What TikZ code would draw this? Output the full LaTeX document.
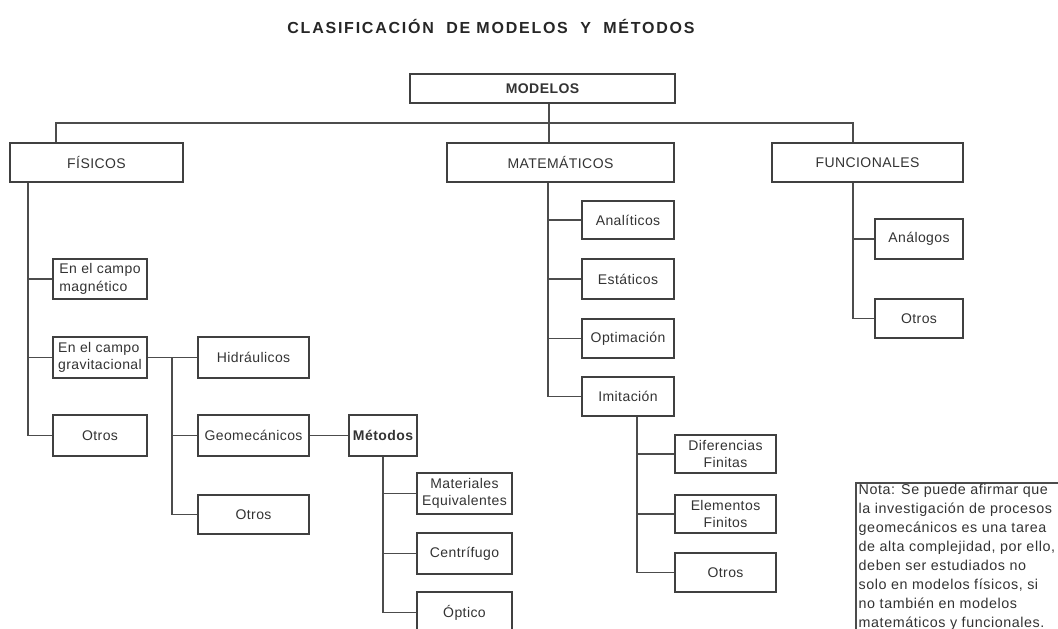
\documentclass[tikz,border=0pt]{standalone}
\usepackage{fontspec}
\setmainfont{Liberation Sans}
\newfontfamily\boxfont[LetterSpace=3]{Liberation Sans}
\newfontfamily\titlefont[LetterSpace=11]{Liberation Sans}
\newfontfamily\notefont[LetterSpace=4]{Liberation Sans}
\begin{document}
\begin{tikzpicture}[x=1pt,y=-1pt,
  box/.style={draw=black!75,line width=1.2pt,inner sep=0pt,align=center,text=black!80,
    font=\boxfont\fontsize{14}{17.5}\selectfont},
  conn/.style={draw=black!70,line width=1.3pt}]
\useasboundingbox (0,0) rectangle (1058,629);
\clip (0,0) rectangle (1058,629);
\fill[white] (0,0) rectangle (1058,629);
\node[text=black!85,font=\titlefont\bfseries\fontsize{16}{19}\selectfont] (title) at (491,26) {CLASIFICACIÓN\ \ DE MODELOS\ \ Y\ \ MÉTODOS};
% level 0/1
\node[box,minimum width=265,minimum height=29,font=\boxfont\bfseries\fontsize{14}{17}\selectfont] (modelos) at (542.5,88.5) {MODELOS};
\node[box,minimum width=173,minimum height=39] (fisicos) at (96.5,162.5) {FÍSICOS};
\node[box,minimum width=227,minimum height=39] (matem) at (560.5,162.5) {MATEMÁTICOS};
\node[box,minimum width=191,minimum height=39] (funcion) at (867.5,162.5) {FUNCIONALES};
% fisicos children
\node[box,minimum width=94,minimum height=40,align=left] (mag) at (100,279) {En el campo\\magnético};
\node[box,minimum width=94,minimum height=41,align=left] (grav) at (100,357.5) {En el campo\\gravitacional};
\node[box,minimum width=94,minimum height=41] (otrosF) at (100,435.5) {Otros};
\node[box,minimum width=111,minimum height=41] (hidr) at (253.5,357.5) {Hidráulicos};
\node[box,minimum width=111,minimum height=41] (geom) at (253.5,435.5) {Geomecánicos};
\node[box,minimum width=111,minimum height=39] (otrosG) at (253.5,514.5) {Otros};
\node[box,minimum width=68,minimum height=41,font=\boxfont\bfseries\fontsize{14}{17}\selectfont] (metodos) at (383,435.5) {Métodos};
\node[box,minimum width=95,minimum height=41] (mateq) at (464.5,493.5) {Materiales\\Equivalentes};
\node[box,minimum width=95,minimum height=41] (centr) at (464.5,553.5) {Centrífugo};
\node[box,minimum width=95,minimum height=41] (optico) at (464.5,612.5) {Óptico};
% matematicos children
\node[box,minimum width=92,minimum height=38] (anal) at (628,220) {Analíticos};
\node[box,minimum width=92,minimum height=40] (estat) at (628,279) {Estáticos};
\node[box,minimum width=92,minimum height=39] (optim) at (628,338.5) {Optimación};
\node[box,minimum width=92,minimum height=39] (imit) at (628,396.5) {Imitación};
\node[box,minimum width=101,minimum height=38] (diffin) at (725.5,454) {Diferencias\\Finitas};
\node[box,minimum width=101,minimum height=38] (elemfin) at (725.5,514) {Elementos\\Finitos};
\node[box,minimum width=101,minimum height=39] (otrosI) at (725.5,572.5) {Otros};
% funcionales children
\node[box,minimum width=88,minimum height=40] (analog) at (919,239) {Análogos};
\node[box,minimum width=88,minimum height=39] (otrosFu) at (919,318.5) {Otros};
% note
\draw[draw=black!70,line width=1.3pt] (856,483) rectangle (1075,650);
\node[anchor=north west,inner sep=0pt,align=left,text=black!80,
  font=\notefont\fontsize{14.3}{19.1}\selectfont] (nota) at (858.5,483.5) {Nota: Se puede afirmar que\\la investigación de procesos\\geomecánicos es una tarea\\de alta complejidad, por ello,\\deben ser estudiados no\\solo en modelos físicos, si\\no también en modelos\\matemáticos y funcionales.};
% bus coordinates
\coordinate (fx) at (56,123);
\coordinate (mx) at (549,123);
\coordinate (ux) at (853,123);
\coordinate (fb) at (28,0);
\coordinate (gb) at (172,0);
\coordinate (tb) at (383,0);
\coordinate (mb) at (548,0);
\coordinate (ib) at (637,0);
\coordinate (ub) at (853,0);
% top connectors
\draw[conn] (fx |- fisicos.north) -- (fx) -- (ux) -- (ux |- funcion.north);
\draw[conn] (mx |- modelos.south) -- (mx |- matem.north);
% fisicos
\draw[conn] (fb |- fisicos.south) |- (otrosF.west);
\draw[conn] (fb |- mag) -- (mag.west);
\draw[conn] (fb |- grav) -- (grav.west);
\draw[conn] (grav.east) -- (gb |- grav) |- (otrosG.west);
\draw[conn] (gb |- grav) -- (hidr.west);
\draw[conn] (gb |- geom) -- (geom.west);
\draw[conn] (geom.east) -- (metodos.west);
\draw[conn] (tb |- metodos.south) |- (optico.west);
\draw[conn] (tb |- mateq) -- (mateq.west);
\draw[conn] (tb |- centr) -- (centr.west);
% matematicos
\draw[conn] (mb |- matem.south) |- (imit.west);
\draw[conn] (mb |- anal) -- (anal.west);
\draw[conn] (mb |- estat) -- (estat.west);
\draw[conn] (mb |- optim) -- (optim.west);
\draw[conn] (ib |- imit.south) |- (otrosI.west);
\draw[conn] (ib |- diffin) -- (diffin.west);
\draw[conn] (ib |- elemfin) -- (elemfin.west);
% funcionales
\draw[conn] (ub |- funcion.south) |- (otrosFu.west);
\draw[conn] (ub |- analog) -- (analog.west);
\end{tikzpicture}
\end{document}
